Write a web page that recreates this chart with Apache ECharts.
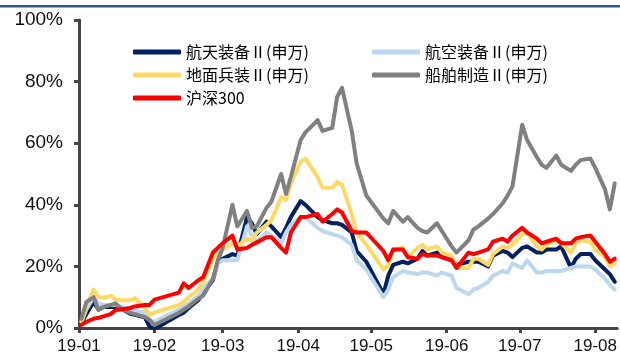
<!DOCTYPE html>
<html>
<head>
<meta charset="utf-8">
<script src="https://cdn.jsdelivr.net/npm/echarts@6/dist/echarts.min.js"></script>
<style>
  html, body { margin: 0; padding: 0; background: #fff; }
  #chart { width: 620px; height: 356px; }
</style>
</head>
<body>
<div id="chart"></div>
<script>
// Trading dates (sampled) for 2019
const dates = ['2019-01-02','2019-01-04','2019-01-07','2019-01-09','2019-01-11','2019-01-14','2019-01-16','2019-01-18','2019-01-22','2019-01-24','2019-01-28','2019-01-30','2019-02-01',
  '2019-02-11','2019-02-13','2019-02-15','2019-02-19','2019-02-21','2019-02-25','2019-02-27',
  '2019-03-01','2019-03-05','2019-03-07','2019-03-11','2019-03-13','2019-03-15','2019-03-19','2019-03-21','2019-03-25','2019-03-27','2019-03-29',
  '2019-04-02','2019-04-04','2019-04-09','2019-04-11','2019-04-15','2019-04-17','2019-04-19','2019-04-23','2019-04-25','2019-04-29',
  '2019-05-06','2019-05-08','2019-05-10','2019-05-14','2019-05-16','2019-05-20','2019-05-22','2019-05-24','2019-05-28','2019-05-30',
  '2019-06-03','2019-06-05','2019-06-10','2019-06-12','2019-06-14','2019-06-18','2019-06-20','2019-06-24','2019-06-26','2019-06-28',
  '2019-07-02','2019-07-04','2019-07-08','2019-07-10','2019-07-12','2019-07-16','2019-07-18','2019-07-22','2019-07-24','2019-07-26','2019-07-30',
  '2019-08-01','2019-08-05','2019-08-07','2019-08-09'];

// Cumulative return since start of year, in percent
const spaceEquip = [1.5,4.5,8.5,6,6.8,6.8,6.8,6.5,4.6,4.3,3.5,0.5,-0.3,
  4.2,5,6.5,9,11.5,15.5,21.5,
  22.5,24,23.5,36,34,30.5,34.5,33,29.5,32.5,36,
  41.2,40,36,35,34,34,33.5,31,25,21.5,
  11,17,20.5,21.5,21,22.5,25,23.5,24.5,23,
  22,20.5,21.5,21.5,21.5,20,23.5,25,24.5,23,
  26,26.5,24.5,24.5,25.5,25.5,26.5,19.5,22.5,24,24,
  22,19,17.5,15];

const aeroEquip = [2,6,10,8,7.5,7.5,7.5,7,6,5.5,5,2.5,2,
  6,7,8,10.5,13,16,21,
  22,22,22,33,30,28,31,30,27.5,31,33.5,
  36,36,32.5,31.5,30.5,30,29.5,27,22,19,
  10,12.5,16.5,18.5,18,17.5,18,18,17,18,
  17,13,11,12.5,13,15,17,18.5,18,21,
  19.5,22,18,18,18.5,18.5,18.5,19.5,20,20,20,
  19,16,14,12.5];

const groundArms = [2,7,12.5,10,9.8,10.5,9.3,9,9,9.7,6.5,4.2,5,
  7.5,8.5,10,12.5,15,22.5,24,
  25.5,27.5,26.5,29,28.5,31,33.5,35,42.5,41.5,47,
  54,55,49,45.5,45.5,47.4,46.5,37,31,27,
  19,20.5,25.5,26,23,26,27,25.5,26.5,24.5,
  23.5,19.5,19.5,22.5,22.5,20.5,24,26.5,26,27,
  30.5,31,26.5,25.5,27,28.5,27.5,24.5,27.5,28.5,28,
  25.5,23,20,21];

const shipbuilding = [3,8.4,10,5.8,6.8,7.5,8,6.5,4.9,4.5,3.6,2.6,1,
  4.9,6,7,9.5,10.5,16,22,
  26,40,33,38,32.5,33,39,41,50,43.5,49,
  61,63.5,67.5,64,65,75,78,64,53.5,43,
  35.5,34,38,34.5,36,32.5,31.5,31,34,31.5,
  26.5,24.5,28.5,32,33,35.5,37,40.5,43,46,
  66,61,55.5,53,52,56,53,51,53,54.5,55,
  52,45,38.5,47];

const csi300 = [1,2,3,3.3,3.8,4.5,5.8,6,6.5,7,7.5,7.5,9.2,
  11.5,14.5,13,15.5,16.5,24.5,26,
  27.5,30,25.5,26,27,27.8,29.5,29.5,26,24.5,31,
  36,36,37,34.5,37,38.5,37.5,31.5,31,31,
  25,22,25.5,25.5,23,22.5,24,23.5,23.5,23,
  22,19.5,24.5,24,24.5,25.5,28,29,28,30,
  32.5,31,29,27.5,28,29,27.5,27.5,29,29.5,30,
  28,24,21.5,22.5];

const seriesNames = ['航天装备Ⅱ(申万)','航空装备Ⅱ(申万)','地面兵装Ⅱ(申万)','船舶制造Ⅱ(申万)','沪深300'];
const seriesValues = [spaceEquip, aeroEquip, groundArms, shipbuilding, csi300];
const seriesColors = ['#002060','#bdd7ee','#ffd966','#808080','#ff0000'];

const tickLabels = ['19-01','19-02','19-03','19-04','19-05','19-06','19-07','19-08'];
const yTicks = [0,20,40,60,80,100];
const axisEndDate = '2019-08-10';

// Day offset from 1 Jan 2019, used as the x value on a linear axis
const DAY = 86400000;
const origin = Date.UTC(2019, 0, 1);
function dayIndex(str) {
  const p = str.split('-').map(Number);
  return Math.round((Date.UTC(p[0], p[1] - 1, p[2]) - origin) / DAY);
}
const monthStarts = tickLabels.map(function (t) {
  const p = t.split('-');
  return dayIndex((2000 + Number(p[0])) + '-' + p[1] + '-01');
});

const chart = echarts.init(document.getElementById('chart'), null, { renderer: 'canvas' });

const axisColor = '#454545';
const labelFont = '"Liberation Sans", Arial, sans-serif';
const cjkFont = '"Noto Sans CJK SC", "Liberation Sans", sans-serif';

chart.setOption({
  animation: false,
  backgroundColor: '#ffffff',
  graphic: [{
    type: 'rect',
    shape: { x: 0, y: 5, width: 620, height: 2.5 },
    style: { fill: '#2a5783' },
    silent: true
  }],
  grid: { left: 79, right: 2, top: 20, bottom: 28, containLabel: false },
  legend: [{
    data: [seriesNames[0], seriesNames[2], seriesNames[4]],
    orient: 'vertical',
    left: 133, top: 43,
    padding: 0,
    itemGap: 5,
    itemWidth: 48, itemHeight: 5,
    icon: 'roundRect',
    textStyle: { fontSize: 16, fontFamily: cjkFont, color: '#000', lineHeight: 18 }
  }, {
    data: [seriesNames[1], seriesNames[3]],
    orient: 'vertical',
    left: 372, top: 43,
    padding: 0,
    itemGap: 5,
    itemWidth: 48, itemHeight: 5,
    icon: 'roundRect',
    textStyle: { fontSize: 16, fontFamily: cjkFont, color: '#000', lineHeight: 18 }
  }],
  xAxis: {
    type: 'value',
    min: 0,
    max: dayIndex(axisEndDate),
    axisLine: { show: true, onZero: false, lineStyle: { color: axisColor, width: 3 } },
    axisTick: { show: true, length: 5, inside: false, customValues: monthStarts, lineStyle: { color: axisColor, width: 3 } },
    axisLabel: {
      customValues: monthStarts,
      margin: 10,
      fontSize: 17,
      fontFamily: labelFont,
      color: '#111',
      showMinLabel: true,
      showMaxLabel: true,
      formatter: function (v) {
        const i = monthStarts.indexOf(Math.round(v));
        return i >= 0 ? tickLabels[i] : '';
      }
    },
    splitLine: { show: false }
  },
  yAxis: {
    type: 'value',
    min: yTicks[0],
    max: yTicks[yTicks.length - 1],
    interval: 20,
    axisLine: { show: true, lineStyle: { color: axisColor, width: 3 } },
    axisTick: { show: true, length: 5, lineStyle: { color: axisColor, width: 3 } },
    axisLabel: {
      margin: 16,
      fontSize: 19,
      fontFamily: labelFont,
      color: '#111',
      formatter: '{value}%'
    },
    splitLine: { show: false }
  },
  series: seriesNames.map(function (name, k) {
    return {
      name: name,
      type: 'line',
      data: dates.map(function (d, i) { return [dayIndex(d), seriesValues[k][i]]; }),
      showSymbol: false,
      symbol: 'none',
      color: seriesColors[k],
      lineStyle: { color: seriesColors[k], width: 4, join: 'round', cap: 'round' },
      z: 2 + k,
      clip: true
    };
  })
});
</script>
</body>
</html>
